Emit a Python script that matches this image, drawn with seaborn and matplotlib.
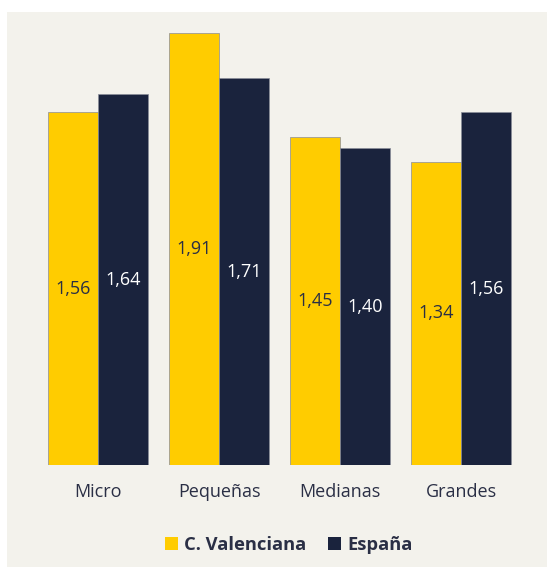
import matplotlib
matplotlib.use("Agg")
import matplotlib.pyplot as plt
import matplotlib.patches as mpatches
import seaborn as sns
import pandas as pd

categorias = ["Micro", "Pequeñas", "Medianas", "Grandes"]
regiones = ["C. Valenciana", "España"]
valencia = [1.56, 1.91, 1.45, 1.34]
espana = [1.64, 1.71, 1.40, 1.56]

colores = {"C. Valenciana": "#ffcc00", "España": "#1a233d"}
fondo = "#f3f2ec"
texto = "#2a2f45"

df = pd.DataFrame({
    "tamaño": categorias * 2,
    "region": [regiones[0]] * 4 + [regiones[1]] * 4,
    "valor": valencia + espana,
})

sns.set_theme(style="white")
plt.rcParams["font.family"] = ["Open Sans", "DejaVu Sans"]

W, H = 547, 567
fig = plt.figure(figsize=(W / 100, H / 100), dpi=100, facecolor="white")

# beige panel behind the chart
bg = fig.add_axes([7 / W, 0, (W - 7) / W, (H - 12) / H], zorder=-10)
bg.set_facecolor(fondo)
bg.set_xticks([])
bg.set_yticks([])
for s in bg.spines.values():
    s.set_visible(False)

ymax = 2.0
px_per_unit = 432 / 1.91
ax = fig.add_axes([37.5 / W, 102 / H, 484 / W, ymax * px_per_unit / H])
ax.set_facecolor("none")

sns.barplot(data=df, x="tamaño", y="valor", hue="region", order=categorias,
            hue_order=regiones, palette=colores, width=0.826, saturation=1,
            edgecolor="#8a8d99", linewidth=0.5, legend=False, ax=ax)

ax.set_ylim(0, ymax)
ax.set_xlim(-0.5, 3.5)
for s in ax.spines.values():
    s.set_visible(False)
ax.set_yticks([])
ax.set_xlabel("")
ax.set_ylabel("")
ax.tick_params(axis="x", length=0, pad=13, labelsize=13, labelcolor=texto)

for cont, reg in zip(ax.containers, regiones):
    col = texto if reg == "C. Valenciana" else "white"
    labels = [f"{b.get_height():.2f}".replace(".", ",") for b in cont]
    ax.bar_label(cont, labels=labels, label_type="center", color=col, fontsize=13)

handles = [mpatches.Patch(facecolor=colores[r], edgecolor="none", label=r) for r in regiones]
leg = fig.legend(handles=handles, loc="center", bbox_to_anchor=(289 / W, 1 - 545 / H),
                 ncol=2, frameon=False, handlelength=0.7, handleheight=0.7,
                 handletextpad=0.35, columnspacing=1.2,
                 prop={"weight": "bold", "size": 13.2})
for t in leg.get_texts():
    t.set_color(texto)

fig.savefig("out.png", dpi=100, facecolor="white")
